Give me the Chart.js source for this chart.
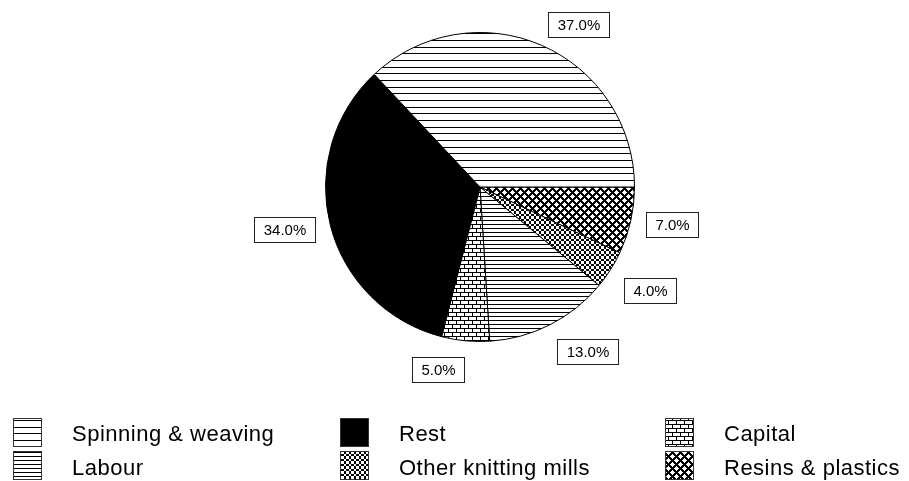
<!DOCTYPE html>
<html>
<head>
<meta charset="utf-8">
<script src="https://cdn.jsdelivr.net/npm/chart.js@4"></script>
<style>
    body { margin: 0; background: #fff; }
    canvas { display: block; }
</style>
</head>
<body>
<canvas id="pieChart" width="909" height="481"></canvas>
<script>
// Data, in legend order (slices run counter-clockwise from 3 o'clock)
const categories = ['Spinning & weaving', 'Rest', 'Capital', 'Labour', 'Other knitting mills', 'Resins & plastics'];
const shares = [37, 34, 5, 13, 4, 7];
const shareLabels = ['37.0%', '34.0%', '5.0%', '13.0%', '4.0%', '7.0%'];

// small tile patterns like the old print hatching
function makePattern(w, h, draw) {
    const c = document.createElement('canvas');
    c.width = w;
    c.height = h;
    const g = c.getContext('2d');
    draw(g);
    return g.createPattern(c, 'repeat');
}

const ctx = document.getElementById('pieChart').getContext('2d');

const fills = [
    // Spinning & weaving: wide horizontal lines
    makePattern(8, 20, g => {
        g.fillStyle = '#fff'; g.fillRect(0, 0, 8, 20);
        g.fillStyle = '#000';
        [0, 7, 13].forEach(y => g.fillRect(0, y, 8, 1));
    }),
    // Rest: solid
    '#000',
    // Capital: bricks
    makePattern(8, 8, g => {
        g.fillStyle = '#fff'; g.fillRect(0, 0, 8, 8);
        g.fillStyle = '#000';
        g.fillRect(0, 0, 8, 1);
        g.fillRect(0, 4, 8, 1);
        g.fillRect(0, 0, 1, 4);
        g.fillRect(4, 4, 1, 4);
    }),
    // Labour: dense horizontal lines
    makePattern(8, 4, g => {
        g.fillStyle = '#fff'; g.fillRect(0, 0, 8, 4);
        g.fillStyle = '#000'; g.fillRect(0, 0, 8, 1);
    }),
    // Other knitting mills: little rings
    makePattern(5, 5, g => {
        g.fillStyle = '#fff'; g.fillRect(0, 0, 5, 5);
        g.fillStyle = '#000';
        [[1, 0], [2, 0], [3, 0], [0, 1], [4, 1], [0, 2], [4, 2], [0, 3], [4, 3], [1, 4], [2, 4], [3, 4]]
            .forEach(p => g.fillRect(p[0], p[1], 1, 1));
    }),
    // Resins & plastics: black lattice with white diamonds
    makePattern(8, 8, g => {
        g.fillStyle = '#000'; g.fillRect(0, 0, 8, 8);
        g.fillStyle = '#fff';
        for (let y = 0; y < 8; y++) {
            for (let x = 0; x < 8; x++) {
                const d1 = Math.abs(x - 4) + Math.abs(y - 4);
                const dx = Math.min(x, 8 - x), dy = Math.min(y, 8 - y);
                if (d1 <= 2 || dx + dy <= 2) g.fillRect(x, y, 1, 1);
            }
        }
    })
];

// Chart.js goes clockwise, so feed the slices reversed and start at 3 o'clock
const order = categories.map((_, i) => i).reverse();

const labelBoxes = {
    id: 'labelBoxes',
    afterDatasetsDraw(chart) {
        const g = chart.ctx;
        const arcs = chart.getDatasetMeta(0).data;
        g.save();
        g.font = '15px "Liberation Sans", Arial, sans-serif';
        g.textAlign = 'center';
        g.textBaseline = 'middle';
        arcs.forEach((arc, k) => {
            const i = order[k];
            const mid = (arc.startAngle + arc.endAngle) / 2;
            const cos = Math.cos(mid), sin = Math.sin(mid);
            const px = arc.x + (arc.outerRadius + 16) * cos;
            const py = arc.y + (arc.outerRadius + 16) * sin;
            const w = Math.round(g.measureText(shareLabels[i]).width + 18);
            const h = 25;
            const cx = px + Math.sign(cos) * w / 2;
            const cy = py + (sin > 0.4 ? h / 2 : (sin < -0.4 ? -h / 4 : 0));
            const x0 = Math.round(cx - w / 2) + 0.5;
            const y0 = Math.round(cy - h / 2) + 0.5;
            g.fillStyle = '#fff';
            g.fillRect(x0, y0, w, h);
            g.strokeStyle = '#222';
            g.lineWidth = 1;
            g.strokeRect(x0, y0, w, h);
            g.fillStyle = '#000';
            g.fillText(shareLabels[i], x0 + w / 2, y0 + h / 2 + 1);
        });
        g.restore();
    }
};

// legend: 3 columns x 2 rows, row-major
const gridLegend = {
    id: 'gridLegend',
    afterDraw(chart) {
        const g = chart.ctx;
        const colBox = [13, 340, 665];
        const colText = [72, 399, 724];
        const rowBox = [418, 451];
        const rowBase = [441, 475];
        g.save();
        g.font = '22px "Liberation Sans", Arial, sans-serif';
        g.letterSpacing = '0.5px';
        g.textBaseline = 'alphabetic';
        categories.forEach((name, i) => {
            const col = i % 3, row = Math.floor(i / 3);
            g.fillStyle = fills[i];
            g.fillRect(colBox[col], rowBox[row], 29, 29);
            g.strokeStyle = '#333';
            g.lineWidth = 1;
            g.strokeRect(colBox[col] + 0.5, rowBox[row] + 0.5, 28, 28);
            g.fillStyle = '#000';
            g.fillText(name, colText[col], rowBase[row]);
        });
        g.restore();
    }
};

new Chart(ctx, {
    type: 'pie',
    data: {
        labels: order.map(i => categories[i]),
        datasets: [{
            data: order.map(i => shares[i]),
            backgroundColor: order.map(i => fills[i]),
            borderColor: '#000',
            borderWidth: 1
        }]
    },
    options: {
        responsive: false,
        animation: false,
        rotation: 90,
        layout: { padding: { top: 32, bottom: 139, left: 325, right: 274 } },
        plugins: {
            legend: { display: false },
            tooltip: { enabled: false }
        }
    },
    plugins: [labelBoxes, gridLegend]
});
</script>
</body>
</html>
